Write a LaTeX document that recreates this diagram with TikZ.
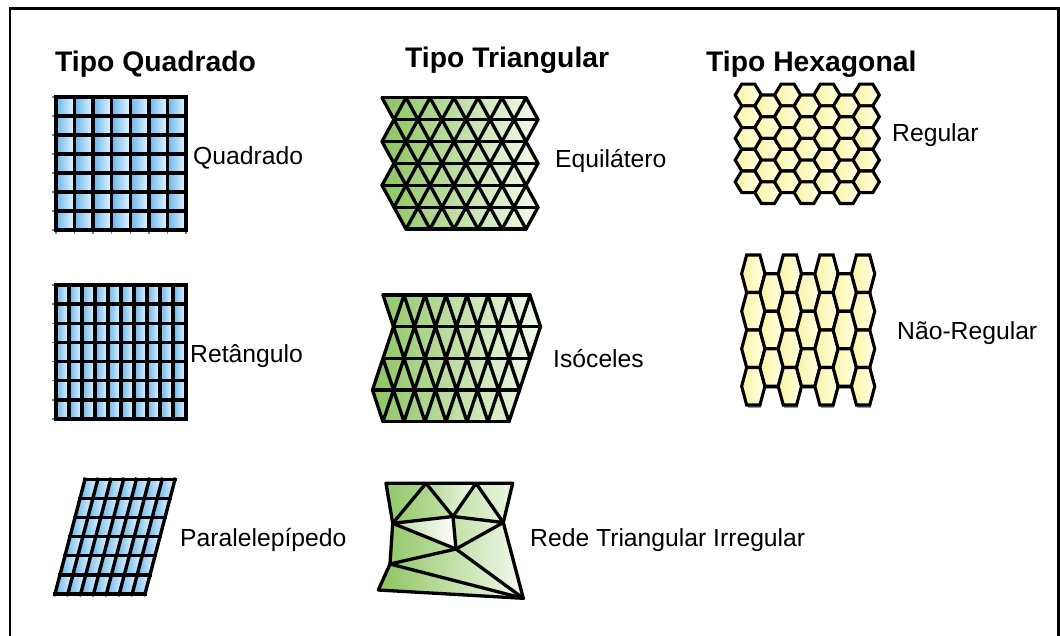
\documentclass[tikz,border=0pt]{standalone}
\usepackage{fontspec}
\setmainfont{Liberation Sans}
\definecolor{blueL}{RGB}{105,182,235}
\definecolor{blueR}{RGB}{232,246,255}
\definecolor{greenL}{RGB}{140,196,96}
\definecolor{greenR}{RGB}{244,250,236}
\definecolor{yelL}{RGB}{248,244,165}
\definecolor{yelR}{RGB}{255,255,228}
\begin{document}
\begin{tikzpicture}[x=1pt,y=-1pt,
  gridline/.style={line width=3.4pt,black,line cap=rect},
  triline/.style={line width=3.3pt,black,line join=round,line cap=round},
  hexline/.style={line width=3.1pt,black,line join=miter},
  stub/.style={line width=1.5pt,gray},
  title/.style={font=\bfseries\fontsize{28.3}{30}\selectfont,anchor=base west,inner sep=0pt},
  lbl/.style={font=\fontsize{24.7}{28}\selectfont,anchor=base west,inner sep=0pt}]
\useasboundingbox (0,0) rectangle (1060,635);
\fill[white] (0,0) rectangle (1060,635);
% frame
\draw[line width=2.6pt,black] (10,660) -- (10,8.5) -- (1058.6,8.5) -- (1058.6,660);

% titles
\node[title] (tq) at (55,71) {Tipo Quadrado};
\node[title] (tt) at (405,67) {Tipo Triangular};
\node[title] (th) at (706,71) {Tipo Hexagonal};

% ---------- square grid ----------
\foreach \i in {0,...,6}{\foreach \j in {0,...,6}{
  \shade[left color=blueL,right color=blueR] ({56+\i*18.57},{97+\j*19}) rectangle ++(18.57,19);}}
\foreach \j in {0,...,7} \draw[stub] (52,{97+\j*19}) -- (56,{97+\j*19});
\foreach \i in {0,...,7} \draw[stub] ({56+\i*18.57},230) -- ({56+\i*18.57},234);
\foreach \i in {0,...,7} \draw[gridline] ({56+\i*18.57},97) -- ({56+\i*18.57},230);
\foreach \j in {0,...,7} \draw[gridline] (56,{97+\j*19}) -- (186,{97+\j*19});
\node[lbl] (lq) at (193,164) {Quadrado};

% ---------- rectangle grid ----------
\foreach \i in {0,...,9}{\foreach \j in {0,...,6}{
  \shade[left color=blueL,right color=blueR] ({56+\i*13},{285+\j*19.14}) rectangle ++(13,19.14);}}
\foreach \j in {0,...,7} \draw[stub] (52,{285+\j*19.14}) -- (56,{285+\j*19.14});
\foreach \i in {0,...,10} \draw[gridline] ({56+\i*13},285) -- ({56+\i*13},419);
\foreach \j in {0,...,7} \draw[gridline] (56,{285+\j*19.14}) -- (186,{285+\j*19.14});
\node[lbl] (lr) at (190,362) {Retângulo};

% ---------- parallelogram grid ----------
\foreach \u in {0,...,6}{\foreach \v in {0,...,5}{
  \shade[left color=blueL,right color=blueR] ({85+12.86*\u-5*\v},{479.3+19.1*\v}) -- ++(12.86,0) -- ++(-5,19.1) -- ++(-12.86,0) -- cycle;}}
\foreach \u in {0,...,7} \draw[stub] ({55+12.86*\u},594) -- ({54.4+12.86*\u},597);
\foreach \u in {0,...,7} \draw[gridline] ({85+12.86*\u},479.3) -- ({55+12.86*\u},593.9);
\foreach \v in {0,...,6} \draw[gridline] ({85-5*\v},{479.3+19.1*\v}) -- ({175-5*\v},{479.3+19.1*\v});
\node[lbl] (lp) at (180,546) {Paralelepípedo};

% ---------- equilateral triangles ----------
\def\ey#1{(97.7+21.9*#1)}
\shade[left color=greenL,right color=greenR]
  (382,{\ey0}) -- (526,{\ey0}) -- (538,{\ey1}) -- (526,{\ey2}) -- (538,{\ey3}) -- (526,{\ey4}) -- (538,{\ey5}) -- (526,{\ey6})
  -- (406,{\ey6}) -- (394,{\ey5}) -- (382,{\ey4}) -- (394,{\ey3}) -- (382,{\ey2}) -- (394,{\ey1}) -- cycle;
\foreach \s/\n/\a/\b in {382/13/0/1, 382/13/2/1, 382/13/2/3, 382/13/4/3, 382/13/4/5, 394/12/5/6}{
  \draw[triline] (\s,{97.7+21.9*\a}) \foreach \m in {1,...,\n}{ -- ({\s+12*\m},{97.7+21.9*(\a+(\b-\a)*mod(\m,2))}) };
}
\foreach \k/\l/\r in {0/382/526, 1/394/538, 2/382/526, 3/394/538, 4/382/526, 5/394/538, 6/406/526}
  \draw[triline] (\l,{97.7+21.9*\k}) -- (\r,{97.7+21.9*\k});
\node[lbl] (le) at (555,167) {Equilátero};

% ---------- isosceles triangles ----------
\shade[left color=greenL,right color=greenR]
  (383,295) -- (530,295) -- (540.5,326.67) -- (530,358.33) -- (519.5,390) -- (509,421.67)
  -- (383,421.67) -- (372.5,390) -- (383,358.33) -- (393.5,326.67) -- cycle;
\foreach \s/\n/\a/\b in {383/15/0/1, 383/15/2/1, 372.5/15/3/2, 372.5/14/3/4}{
  \draw[triline] (\s,{295+31.667*\a}) \foreach \m in {1,...,\n}{ -- ({\s+10.5*\m},{295+31.667*(\a+(\b-\a)*mod(\m,2))}) };
}
\foreach \k/\l/\r in {0/383/530, 1/393.5/540.5, 2/383/530, 3/372.5/519.5, 4/383/509}
  \draw[triline] (\l,{295+31.667*\k}) -- (\r,{295+31.667*\k});
\node[lbl] (li) at (553,367) {Isóceles};

% ---------- irregular triangulation ----------
\coordinate (TL) at (386,483.3);
\coordinate (A) at (426,483.3);
\coordinate (B) at (476,483.3);
\coordinate (TR) at (512.7,483.3);
\coordinate (L1) at (392.7,523.3);
\coordinate (C1) at (453,516.5);
\coordinate (R1) at (503.3,522.5);
\coordinate (C2) at (456,549);
\coordinate (L2) at (390,564);
\coordinate (BL) at (378.3,590);
\coordinate (BR) at (523.3,598.3);
\shade[left color=greenL,right color=greenR] (TL) -- (TR) -- (R1) -- (BR) -- (BL) -- (L2) -- (L1) -- cycle;
\shade[left color=greenL!60!white,right color=white] (L1) -- (C1) -- (C2) -- cycle;
\shade[left color=greenL!70!white,right color=greenR] (A) -- (C1) -- (B) -- cycle;
\draw[triline] (TL) -- (TR) -- (R1) -- (BR) -- (BL) -- (L2) -- (L1) -- cycle;
\draw[triline] (A) -- (L1);
\draw[triline] (A) -- (C1);
\draw[triline] (B) -- (C1);
\draw[triline] (B) -- (R1);
\draw[triline] (L1) -- (C1);
\draw[triline] (C1) -- (R1);
\draw[triline] (C1) -- (C2);
\draw[triline] (L1) -- (C2);
\draw[triline] (C2) -- (R1);
\draw[triline] (L2) -- (C2);
\draw[triline] (C2) -- (BR);
\draw[triline] (L2) -- (BR);
\node[lbl] (lrti) at (530,546) {Rede Triangular Irregular};

% ---------- regular hexagons ----------
\foreach \j in {0,...,6}{\foreach \i in {0,...,4}{
  \pgfmathsetmacro\cx{748.3+19.65*\j}
  \pgfmathsetmacro\cy{95+21.7*\i+10.85*mod(\j,2)}
  \draw[hexline,left color=yelL,right color=yelR]
    ({\cx-13.1},\cy) -- ({\cx-6.55},{\cy-10.85}) -- ({\cx+6.55},{\cy-10.85}) -- ({\cx+13.1},\cy)
    -- ({\cx+6.55},{\cy+10.85}) -- ({\cx-6.55},{\cy+10.85}) -- cycle;}}
\node[lbl] (lreg) at (892,141) {Regular};

% ---------- non-regular hexagons ----------
\foreach \j/\n/\y in {0/3/273.75, 1/2/292.5, 2/3/273.75, 3/2/292.5, 4/3/273.75, 5/2/292.5, 6/3/273.75}{
  \foreach \i in {0,...,\n}{
    \pgfmathsetmacro\cx{753.3+18.3*\j}
    \pgfmathsetmacro\cy{\y+37.5*\i}
    \fill[gray!80] ({\cx-6.65+1},{\cy+18.75}) rectangle ({\cx+6.65+1},{\cy+21.8});}}
\foreach \j/\n/\y in {0/3/273.75, 1/2/292.5, 2/3/273.75, 3/2/292.5, 4/3/273.75, 5/2/292.5, 6/3/273.75}{
  \foreach \i in {0,...,\n}{
    \pgfmathsetmacro\cx{753.3+18.3*\j}
    \pgfmathsetmacro\cy{\y+37.5*\i}
    \draw[hexline,left color=yelL,right color=yelR]
      ({\cx-11.65},\cy) -- ({\cx-6.65},{\cy-18.75}) -- ({\cx+6.65},{\cy-18.75}) -- ({\cx+11.65},\cy)
      -- ({\cx+6.65},{\cy+18.75}) -- ({\cx-6.65},{\cy+18.75}) -- cycle;}}
\node[lbl] (lnreg) at (897,339) {Não-Regular};
\end{tikzpicture}
\end{document}
